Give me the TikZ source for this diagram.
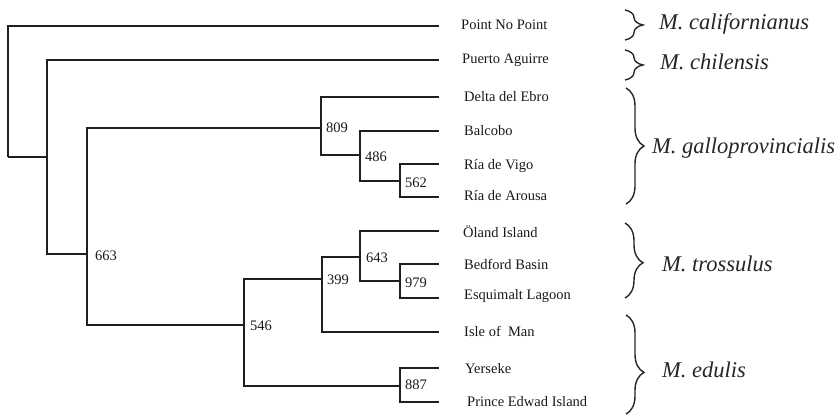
\documentclass[tikz,border=0pt]{standalone}
\usepackage{fontspec}
\setmainfont{Liberation Serif}
\usetikzlibrary{decorations.pathreplacing}
\begin{document}
\begin{tikzpicture}[x=1pt,y=-1pt,
  branch/.style={line width=2.9pt,draw=black!88},
  leaf/.style={anchor=west,inner sep=0pt,font=\fontsize{14.5}{16}\selectfont,text=black!90},
  boot/.style={anchor=west,inner sep=0pt,font=\fontsize{14.5}{16}\selectfont,text=black!90},
  species/.style={anchor=west,inner sep=0pt,font=\fontsize{22.5}{25}\selectfont\itshape,text=black!85},
  grp/.style={line width=1.4pt,draw=black!85,decorate,decoration={brace,amplitude=18pt,#1}},
  grp/.default={aspect=0.5}]
\useasboundingbox (0,0) rectangle (840,415);
% internal nodes
\coordinate (r) at (8,157);
\coordinate (n1) at (47,157);
\coordinate (n663) at (87,254);
\coordinate (n809) at (321,128);
\coordinate (n486) at (360,155);
\coordinate (n562) at (400,181);
\coordinate (n546) at (244,325);
\coordinate (n399) at (322,279);
\coordinate (n643) at (360,257);
\coordinate (n979) at (400,281);
\coordinate (n887) at (400,386);
% leaf tips
\coordinate (t1) at (439,26);
\coordinate (t2) at (439,60);
\coordinate (t3) at (439,97);
\coordinate (t4) at (439,131);
\coordinate (t5) at (439,164);
\coordinate (t6) at (439,197);
\coordinate (t7) at (439,231);
\coordinate (t8) at (439,264);
\coordinate (t9) at (439,298);
\coordinate (t10) at (439,332);
\coordinate (t11) at (439,368);
\coordinate (t12) at (439,402);
% leaf labels
\node[leaf] (l1) at (461,25) {Point No Point};
\node[leaf] (l2) at (462,60) {Puerto Aguirre};
\node[leaf] (l3) at (464,97) {Delta del Ebro};
\node[leaf] (l4) at (464,131) {Balcobo};
\node[leaf] (l5) at (464,166) {Ría de Vigo};
\node[leaf] (l6) at (464,196) {Ría de Arousa};
\node[leaf] (l7) at (463,232) {Öland Island};
\node[leaf] (l8) at (464,264) {Bedford Basin};
\node[leaf] (l9) at (464,296) {Esquimalt Lagoon};
\node[leaf] (l10) at (464,331) {Isle of~~Man};
\node[leaf] (l11) at (465,369) {Yerseke};
\node[leaf] (l12) at (467,402) {Prince Edwad Island};
% branches
\draw[branch] (r) |- (t1);
\draw[branch] (r) |- (n1);
\draw[branch] (n1) |- (t2);
\draw[branch] (n1) |- (n663);
\draw[branch] (n663) |- (n809);
\draw[branch] (n663) |- (n546);
\draw[branch] (n809) |- (t3);
\draw[branch] (n809) |- (n486);
\draw[branch] (n486) |- (t4);
\draw[branch] (n486) |- (n562);
\draw[branch] (n562) |- (t5);
\draw[branch] (n562) |- (t6);
\draw[branch] (n546) |- (n399);
\draw[branch] (n546) |- (n887);
\draw[branch] (n399) |- (n643);
\draw[branch] (n399) |- (t10);
\draw[branch] (n643) |- (t7);
\draw[branch] (n643) |- (n979);
\draw[branch] (n979) |- (t8);
\draw[branch] (n979) |- (t9);
\draw[branch] (n887) |- (t11);
\draw[branch] (n887) |- (t12);
% bootstrap values
\node[boot] (b663) at (95,256) {663};
\node[boot] (b809) at (326,128) {809};
\node[boot] (b486) at (365,157) {486};
\node[boot] (b562) at (405,183) {562};
\node[boot] (b546) at (250,326) {546};
\node[boot] (b399) at (327,280) {399};
\node[boot] (b643) at (366,258) {643};
\node[boot] (b979) at (405,283) {979};
\node[boot] (b887) at (405,385) {887};
% braces
\coordinate (g1a) at (625,10); \coordinate (g1b) at (625,40);
\coordinate (g2a) at (625,50); \coordinate (g2b) at (625,80);
\coordinate (g3a) at (626,88); \coordinate (g3b) at (626,204);
\coordinate (g4a) at (625,223); \coordinate (g4b) at (625,298);
\coordinate (g5a) at (626,315); \coordinate (g5b) at (626,414);
\draw[grp] (g1a) -- (g1b);
\draw[grp] (g2a) -- (g2b);
\draw[grp] (g3a) -- (g3b);
\draw[grp={aspect=0.53}] (g4a) -- (g4b);
\draw[grp={aspect=0.58}] (g5a) -- (g5b);
% species
\node[species] (s1) at (659,24) {M. californianus};
\node[species] (s2) at (660,62) {M. chilensis};
\node[species] (s3) at (652,148) {M. galloprovincialis};
\node[species] (s4) at (662,264) {M. trossulus};
\node[species] (s5) at (662,370) {M. edulis};
\end{tikzpicture}
\end{document}
